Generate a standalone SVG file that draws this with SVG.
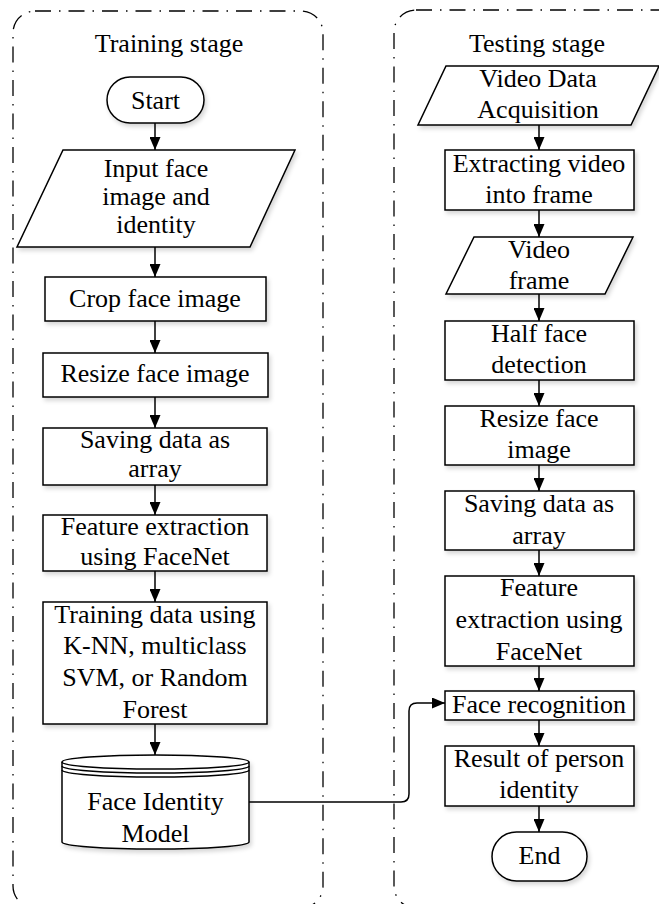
<svg xmlns="http://www.w3.org/2000/svg" width="659" height="904" viewBox="0 0 659 904" font-family="Liberation Serif, serif">
  <defs>
    <style>
      .stage { fill: none; stroke: #000; stroke-width: 1.3; stroke-dasharray: 16 8 1.5 8; }
      .shape { fill: #fff; stroke: #000; stroke-width: 1.5; filter: url(#shadow); }
      .line  { fill: none; stroke: #000; stroke-width: 1.5; }
      .flow  { fill: none; stroke: #000; stroke-width: 1.5; marker-end: url(#arrow); }
      .label { font-family: 'Liberation Serif', serif; font-size: 26px; fill: #000; text-anchor: middle; }
    </style>
    <filter id="shadow" x="-10%" y="-10%" width="125%" height="130%">
      <feDropShadow dx="2" dy="3" stdDeviation="2" flood-color="#000" flood-opacity="0.16"/>
    </filter>
    <marker id="arrow" viewBox="0 0 13 11" markerWidth="13" markerHeight="11" refX="13" refY="5.5" orient="auto" markerUnits="userSpaceOnUse">
      <path d="M0,0 L13,5.5 L0,11 z" fill="#000"/>
    </marker>
  </defs>

  <rect width="659" height="904" fill="#fff"/>

  <!-- stage containers -->
  <g id="training-stage">
    <rect class="stage" x="13" y="11" width="310" height="897" rx="22"/>
    <text class="label" x="169" y="52">Training stage</text>
  </g>
  <g id="testing-stage">
    <rect class="stage" x="394" y="10" width="286" height="898" rx="22"/>
    <text class="label" x="537" y="52">Testing stage</text>
  </g>

  <!-- connectors -->
  <g id="connectors">
    <line class="flow" x1="155" y1="123" x2="155" y2="150"/>
    <line class="flow" x1="155" y1="247" x2="155" y2="277"/>
    <line class="flow" x1="155" y1="321" x2="155" y2="353"/>
    <line class="flow" x1="155" y1="397" x2="155" y2="428"/>
    <line class="flow" x1="155" y1="485" x2="155" y2="515"/>
    <line class="flow" x1="155" y1="571" x2="155" y2="602"/>
    <line class="flow" x1="155" y1="724" x2="155" y2="755"/>

    <line class="flow" x1="539" y1="125" x2="539" y2="150"/>
    <line class="flow" x1="539" y1="210" x2="539" y2="237"/>
    <line class="flow" x1="539" y1="294" x2="539" y2="321"/>
    <line class="flow" x1="539" y1="380" x2="539" y2="406"/>
    <line class="flow" x1="539" y1="465" x2="539" y2="491"/>
    <line class="flow" x1="539" y1="550" x2="539" y2="576"/>
    <line class="flow" x1="539" y1="666" x2="539" y2="691"/>
    <line class="flow" x1="539" y1="720" x2="539" y2="746"/>
    <line class="flow" x1="539" y1="806" x2="539" y2="832"/>

    <path class="flow" d="M249,802 H401 Q409,802 409,794 V711 Q409,703 417,703 H445"/>
  </g>

  <!-- training stage nodes -->
  <g id="start">
    <rect class="shape" x="107" y="77" width="97" height="46" rx="23"/>
    <text class="label" x="155.5" y="109">Start</text>
  </g>
  <g id="input-face">
    <polygon class="shape" points="63,150 295,150 250,247 17,247"/>
    <text class="label" x="156" y="177">Input face</text>
    <text class="label" x="156" y="205">image and</text>
    <text class="label" x="156" y="233">identity</text>
  </g>
  <g id="crop-face">
    <rect class="shape" x="45" y="277" width="221" height="44"/>
    <text class="label" x="155" y="307">Crop face image</text>
  </g>
  <g id="resize-face-train">
    <rect class="shape" x="43" y="353" width="225" height="44"/>
    <text class="label" x="155" y="382">Resize face image</text>
  </g>
  <g id="saving-train">
    <rect class="shape" x="43" y="428" width="224" height="57"/>
    <text class="label" x="155" y="448">Saving data as</text>
    <text class="label" x="155" y="477">array</text>
  </g>
  <g id="feature-train">
    <rect class="shape" x="43" y="515" width="224" height="56"/>
    <text class="label" x="155" y="535">Feature extraction</text>
    <text class="label" x="155" y="565">using FaceNet</text>
  </g>
  <g id="training-data">
    <rect class="shape" x="43" y="602" width="224" height="122"/>
    <text class="label" x="155" y="623">Training data using</text>
    <text class="label" x="155" y="654">K-NN, multiclass</text>
    <text class="label" x="155" y="686">SVM, or Random</text>
    <text class="label" x="155" y="718">Forest</text>
  </g>
  <g id="face-identity-model">
    <path class="shape" d="M62,762 A93.5,7 0 0 1 249,762 V842 A93.5,7 0 0 1 62,842 Z"/>
    <path class="line" d="M62,762 A93.5,7 0 0 0 249,762"/>
    <path class="line" d="M62,766 A93.5,7 0 0 0 249,766"/>
    <path class="line" d="M62,770 A93.5,7 0 0 0 249,770"/>
    <text class="label" x="155.5" y="810">Face Identity</text>
    <text class="label" x="155.5" y="842">Model</text>
  </g>

  <!-- testing stage nodes -->
  <g id="video-acquisition">
    <polygon class="shape" points="446,66 659,66 631,125 418,125"/>
    <text class="label" x="538" y="87">Video Data</text>
    <text class="label" x="538" y="118">Acquisition</text>
  </g>
  <g id="extract-frames">
    <rect class="shape" x="445" y="150" width="189" height="60"/>
    <text class="label" x="539" y="172">Extracting video</text>
    <text class="label" x="539" y="203">into frame</text>
  </g>
  <g id="video-frame">
    <polygon class="shape" points="474,237 633,237 605,294 446,294"/>
    <text class="label" x="539" y="258">Video</text>
    <text class="label" x="539" y="289">frame</text>
  </g>
  <g id="half-face">
    <rect class="shape" x="445" y="321" width="189" height="59"/>
    <text class="label" x="539" y="342">Half face</text>
    <text class="label" x="539" y="373">detection</text>
  </g>
  <g id="resize-face-test">
    <rect class="shape" x="445" y="406" width="189" height="59"/>
    <text class="label" x="539" y="427">Resize face</text>
    <text class="label" x="539" y="458">image</text>
  </g>
  <g id="saving-test">
    <rect class="shape" x="445" y="491" width="189" height="59"/>
    <text class="label" x="539" y="512">Saving data as</text>
    <text class="label" x="539" y="544">array</text>
  </g>
  <g id="feature-test">
    <rect class="shape" x="445" y="576" width="189" height="90"/>
    <text class="label" x="539" y="596">Feature</text>
    <text class="label" x="539" y="628">extraction using</text>
    <text class="label" x="539" y="660">FaceNet</text>
  </g>
  <g id="face-recognition">
    <rect class="shape" x="445" y="691" width="189" height="29"/>
    <text class="label" x="539" y="713">Face recognition</text>
  </g>
  <g id="result">
    <rect class="shape" x="445" y="746" width="189" height="60"/>
    <text class="label" x="539" y="767">Result of person</text>
    <text class="label" x="539" y="798">identity</text>
  </g>
  <g id="end">
    <rect class="shape" x="492" y="832" width="95" height="49" rx="24.5"/>
    <text class="label" x="539.5" y="864">End</text>
  </g>
</svg>
